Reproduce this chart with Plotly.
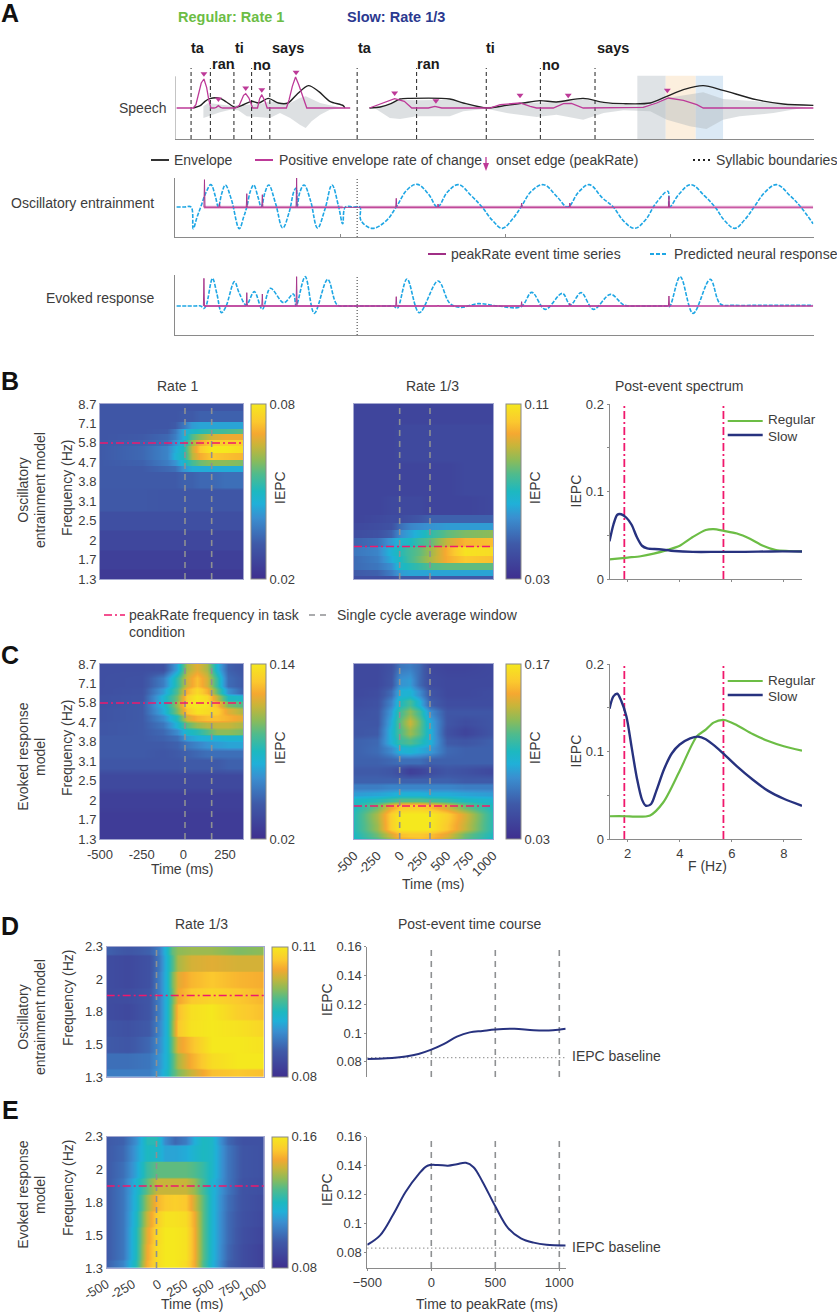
import plotly.graph_objects as go

W, H = 837, 1313
FONT = "Liberation Sans"
TXT = "#3c3c3c"
AX = "#8a8a8a"
PINK = "#f0186c"
GDASH = "#8e9092"
MAG = "#bd3a98"
GREEN = "#6cbd45"
NAVY = "#27327f"
CYAN = "#1ea6e4"
FS = 14
TICK = 13

PARULA = [[0, "#3f2f8f"], [.2, "#3f5aa8"], [.35, "#3a8fd0"], [.43, "#20b0d8"], [.5, "#1db8c0"],
          [.6, "#50bb8c"], [.68, "#8dbb58"], [.76, "#c7b53a"], [.83, "#f5a831"], [.9, "#fbc92e"], [1, "#f5e81e"]]

# ---------- Panel A data: time in arbitrary units, amplitude in arbitrary units ----------
env1_t = [361,374,383,392,411,423,439,451,470,483,501,520,538,554,576,595,616,641,644]
env1_v = [0,7,20,28,29,18,2,7,20,15,29,15,15,40,67,50,20,7,0]
env2_t = [690,710,730,747,766,840,865,909,946,977,1008,1039,1089,1127,1164,1214,1245,1276,1313,1350,1412,1462,1519]
env2_v = [0,3,13,27,29,27,15,0,8,15,22,18,29,17,13,15,35,55,67,53,25,12,8]
rate_t = [330,361,366,371,376,381,386,390,394,400,404,408,412,416,440,447,451,455,459,465,472,481,485,489,495,499,535,540,546,552,558,563,573,654]
rate_v = [0,0,10,40,75,87,62,25,0,0,2,7,2,0,0,8,25,38,43,30,0,0,28,40,20,0,0,25,65,93,70,45,0,0]
rate2_t = [690,715,737,755,769,800,812,825,915,934,971,990,1002,1033,1052,1067,1080,1089,1201,1226,1248,1276,1301,1313,1519]
rate2_v = [0,15,28,20,0,0,5,0,0,10,15,5,0,0,13,14,6,0,2,15,30,23,10,0,0]
wave1_t = [380,389,430,461,486,504,523,542,560,571,582,598,616,641,616,598,582,571,560,542,523,504,486,461,445,430,411,389,380]
wave1_v = [5,15,7,10,12,20,15,15,30,35,27,15,8,1,-5,-20,-40,-60,-50,-30,-15,-30,-28,-25,-7,-5,-13,-25,-30]
wave2_t = [700,728,747,778,840,871,909,977,1039,1089,1133,1214,1245,1288,1313,1350,1412,1475,1506,1444,1381,1350,1319,1288,1245,1214,1164,1127,1089,1039,1002,946,909,865,840,778,747,728,700]
wave2_v = [1,10,25,23,25,10,3,15,17,27,13,5,30,40,47,27,20,7,2,-15,-25,-35,-63,-55,-35,-10,-7,-15,-35,-20,-27,-15,-2,-10,-25,-25,-33,-30,-1]
peak_t = [381,408,459,489,553,737,814,971,1061,1246]
peak_v = [103,27,60,55,107,45,22,38,38,53]
syll_t = [357,393,437,470,504,667,778,908,1009,1111]

osc_t = [330,345,357,361,368,375,385,394,402,408,414,421,432,447,455,461,468,474,482,488,495,502,515,528,540,549,553,555,560,568,580,593,607,620,632,640,645,660,672,674,695,720,740,760,779,800,817,835,856,880,900,920,938,957,973,992,1015,1040,1060,1080,1100,1125,1145,1165,1185,1205,1225,1247,1250,1268,1290,1315,1335,1353,1372,1390,1408,1428,1450,1475,1495,1518]
osc_v = [1,1,1,-64,-30,1,45,68,35,1,40,67,25,-64,-30,1,50,67,30,1,45,67,10,-62,-15,48,58,1,45,67,20,-62,-5,67,5,-49,1,1,1,-39,-63,-42,1,52,69,40,1,45,68,35,1,-40,-63,-35,1,48,68,32,1,45,68,28,1,-42,-63,-38,13,48,1,40,68,35,1,-40,-63,-38,1,45,68,35,1,-49]
osc_spk_t = [381,382,383,409,410,411,460,461,462,489,490,491,553,554,555,739,740,741,817,818,819,973,974,975,1063,1064,1065,1248,1249,1250]
osc_spk_v = [0,83,0,0,12,0,0,41,0,0,38,0,0,89,0,0,27,0,0,10,0,0,13,0,0,13,0,0,33,0]
evo_t = [330,350,365,375,381,385,397,405,414,422,438,447,460,475,490,505,530,548,553,570,587,612,630,650,680,710,725,735,742,760,783,818,840,860,893,930,973,993,1018,1050,1065,1085,1108,1140,1165,1195,1225,1245,1250,1270,1294,1326,1345,1370,1420,1470,1518]
evo_v = [0,0,0,0,-7,0,83,38,-20,-2,73,38,3,43,-10,53,10,36,0,88,-22,80,3,0,0,0,0,0,-7,81,-20,75,8,-4,7,0,-2,41,-10,38,3,40,-10,35,3,0,0,0,-2,88,-22,80,6,2,2,2,2]
evo_spk_t = [380,381,382,460,461,462,489,490,491,553,554,555,739,740,741,817,818,819,973,974,975,1063,1064,1065,1248,1249,1250]
evo_spk_v = [0,83,0,0,40,0,0,36,0,0,88,0,0,28,0,0,3,0,0,13,0,0,8,0,0,30,0]

# ---------- Heat maps: levels are percent of the colour bar range ----------
FREQ_TICKS = ["1.3","1.7","2","2.5","3.1","3.8","4.7","5.8","7.1","8.7"]
B1_t = [-500,-250,-100,-50,0,50,100,170,250,358]
B1_y = [0,1,2,3,4,5.3,5.7,6.0,6.3,6.7,7.0,7.3,7.6,7.85,8.3,9]
B1_lev = [
 [5,5,5,5,5,5,5,5,5,5],
 [8,8,8,8,8,8,8,8,8,8],
 [11,11,11,11,11,11,11,11,11,11],
 [15,15,15,15,15,15,15,15,15,15],
 [19,19,18,18,18,18,18,18,18,18],
 [20,20,20,20,22,22,24,24,26,26],
 [20,20,24,26,36,42,42,42,42,42],
 [20,22,30,36,46,58,64,68,68,66],
 [20,24,32,44,50,74,84,90,88,86],
 [20,24,32,42,50,76,90,100,100,96],
 [20,22,26,36,46,70,83,92,92,92],
 [18,20,24,30,42,60,68,78,82,82],
 [18,18,20,28,42,48,52,56,58,62],
 [18,18,18,20,28,38,40,40,40,40],
 [18,18,18,18,20,20,22,22,22,22],
 [18,18,18,18,18,18,18,18,18,18]]
B2_t = [-500,-250,-100,0,100,200,320,500,700,1000]
B2_y = [0,.3,.67,1.0,1.4,1.9,2.35,2.7,3.05,3.6,5,7,9]
B2_lev = [
 [15,15,16,20,20,20,20,20,20,20],
 [20,22,30,38,40,40,40,40,40,40],
 [25,28,35,48,52,55,60,62,62,62],
 [25,30,42,50,58,64,72,84,90,88],
 [28,32,45,52,58,62,70,85,98,96],
 [22,26,38,46,50,56,62,76,86,88],
 [14,16,22,34,40,46,54,62,66,68],
 [12,14,16,26,32,34,36,38,38,38],
 [10,12,14,14,16,18,22,22,22,22],
 [10,10,12,12,12,12,10,10,10,12],
 [10,10,10,10,10,10,10,10,12,12],
 [10,10,10,12,12,12,12,12,12,12],
 [10,10,10,10,10,10,10,10,10,10]]
C1_t = [-500,-250,-120,-40,20,80,140,200,270,358]
C1_y = [0,1,2,3,3.9,4.4,4.9,5.2,5.5,5.9,6.2,6.6,6.95,7.25,7.6,8,9]
C1_lev = [
 [6,6,6,6,6,6,6,6,6,6],
 [6,6,6,6,6,6,6,6,6,6],
 [8,8,8,8,8,8,8,8,8,8],
 [12,12,12,12,12,12,12,12,12,12],
 [18,18,18,18,20,20,20,20,22,22],
 [20,20,18,20,22,24,26,26,26,26],
 [20,20,20,22,28,32,36,38,40,40],
 [20,20,22,26,38,42,44,44,46,46],
 [18,20,24,34,48,52,60,68,68,65],
 [18,20,28,45,62,70,74,76,76,72],
 [17,20,34,52,78,85,88,88,85,80],
 [17,20,42,66,90,98,96,92,80,72],
 [16,20,45,70,96,100,98,88,65,60],
 [16,18,45,65,92,100,95,75,50,48],
 [15,17,38,60,85,95,85,62,35,22],
 [15,16,30,55,78,88,78,55,25,20],
 [15,15,16,40,72,80,72,45,22,18]]
C2_t = [-500,-250,-100,0,100,200,320,500,700,1000]
C2_y = [0,.2,.6,1.2,1.7,2,2.3,2.7,3,3.5,4,4.6,5,5.5,6,6.5,7,7.5,8,9]
C2_lev = [
 [48,60,72,84,86,88,86,76,62,48],
 [50,64,78,88,90,90,88,80,64,50],
 [52,70,92,100,100,100,100,90,76,52],
 [52,72,92,100,100,100,100,92,78,52],
 [50,64,82,90,92,92,88,78,64,50],
 [48,52,56,60,60,60,58,55,50,46],
 [38,40,42,44,44,44,42,42,40,38],
 [30,30,32,32,32,32,32,32,30,30],
 [22,22,22,22,22,22,22,22,20,20],
 [20,20,18,14,8,10,14,18,16,12],
 [22,22,24,26,26,26,22,22,22,22],
 [22,25,34,44,46,42,38,24,22,22],
 [22,24,44,56,60,54,44,20,18,22],
 [18,20,45,60,70,62,44,16,10,18],
 [18,18,42,62,76,64,42,18,14,18],
 [16,18,38,58,68,58,35,18,18,18],
 [14,16,32,50,58,45,22,14,14,14],
 [12,14,25,44,45,35,18,12,12,14],
 [12,12,18,36,38,25,14,12,12,12],
 [12,12,16,28,30,25,12,10,10,12]]
D_t = [-500,-300,-100,0,70,120,180,300,500,750,1000]
D_y = [0,.5,1,1.5,2,2.5,3,3.5,4]
D_lev = [
 [30,30,30,38,48,58,66,76,88,90,88],
 [26,26,28,36,46,58,72,84,96,100,100],
 [20,18,24,34,46,62,80,88,100,100,98],
 [18,16,20,32,46,66,90,98,100,98,94],
 [14,12,18,30,46,64,88,97,100,92,88],
 [14,14,18,30,46,62,82,90,94,90,86],
 [14,12,16,30,46,64,80,86,90,86,84],
 [14,12,16,28,46,58,72,78,80,78,78],
 [22,18,22,30,48,62,68,70,70,66,68]]
E_t = [-500,-350,-220,-120,-25,50,150,250,330,420,500,650,800,1000]
E_y = [0,.5,1,1.5,2,2.5,3,3.5,4]
E_lev = [
 [22,32,52,84,96,100,100,96,84,60,45,22,14,8],
 [20,28,50,82,96,100,100,98,85,62,46,24,14,8],
 [20,28,50,80,95,100,100,98,85,62,46,25,15,10],
 [20,28,48,76,92,98,98,96,84,62,46,25,16,12],
 [20,28,46,70,86,90,92,90,78,62,46,26,17,13],
 [20,28,45,62,76,76,76,76,70,58,46,28,17,15],
 [20,26,40,56,62,62,62,62,60,55,48,28,18,16],
 [20,24,38,50,48,40,40,42,46,50,48,28,18,16],
 [20,22,35,52,52,34,24,30,42,50,48,24,16,16]]

# ---------- Line panels ----------
SB_reg_f = [1.3,2,2.5,3,3.5,4,4.5,5,5.3,5.7,6.2,6.7,7.2,7.7,8.2,8.7]
SB_reg = [.0225,.0245,.026,.029,.033,.038,.048,.056,.057,.055,.052,.046,.038,.033,.032,.0315]
SB_slow_f = [1.3,1.45,1.6,1.75,1.95,2.15,2.35,2.55,2.75,3.2,3.8,4.5,5.5,6.5,7.5,8.7]
SB_slow = [.043,.062,.0735,.074,.070,.062,.048,.038,.035,.034,.032,.031,.031,.031,.0315,.0315]
SC_reg_f = [1.3,1.9,2.3,2.86,3.37,4,4.65,5,5.3,5.7,6.2,6.8,7.4,8,8.7]
SC_reg = [.026,.026,.0255,.027,.042,.078,.117,.125,.133,.136,.130,.120,.112,.106,.101]
SC_slow_f = [1.3,1.45,1.6,1.75,1.95,2.15,2.35,2.55,2.7,2.9,3.1,3.4,3.7,4,4.4,4.7,5,5.4,5.7,6.2,6.8,7.4,8,8.7]
SC_slow = [.149,.163,.166,.158,.14,.105,.07,.045,.038,.04,.055,.08,.098,.108,.115,.117,.114,.105,.097,.083,.068,.055,.046,.038]
TD_t = [-500,-350,-200,-100,0,100,200,300,400,500,650,800,950,1050]
TD = [.082,.0825,.0838,.0855,.0885,.0925,.0975,.1005,.1015,.1025,.103,.102,.102,.103]
TE_t = [-500,-400,-300,-200,-100,-30,50,130,200,270,330,400,500,600,700,800,900,1050]
TE = [.0855,.092,.106,.122,.134,.14,.1405,.14,.141,.142,.139,.129,.112,.097,.09,.087,.0855,.085]

fig = go.Figure()
axis_count = 0

def txt(x, y, s, size=FS, color=TXT, anchor="center", angle=0, bold=False):
    fig.add_annotation(x=x / W, y=1 - y / H, xref="paper", yref="paper", text=f"<b>{s}</b>" if bold else s,
                       showarrow=False, xanchor=anchor, yanchor="middle", textangle=angle,
                       font=dict(family=FONT, size=size, color=color), align="center", borderpad=0)

def seg(x0, y0, x1, y1, color, width=1.5, dash="solid"):
    fig.add_shape(type="line", xref="paper", yref="paper", x0=x0 / W, x1=x1 / W, y0=1 - y0 / H, y1=1 - y1 / H,
                  line=dict(color=color, width=width, dash=dash))

def axes(x0, x1, y0, y1, xr, yr, xa=None, ya=None):
    global axis_count
    axis_count += 1
    suffix = "" if axis_count == 1 else str(axis_count)
    base_x = dict(domain=[x0 / W, x1 / W], range=xr, showgrid=False, zeroline=False, showline=False,
                  showticklabels=False, ticks="", anchor="y" + suffix,
                  tickfont=dict(family=FONT, size=TICK, color=TXT), linecolor=AX, tickcolor=AX)
    base_y = dict(domain=[1 - y1 / H, 1 - y0 / H], range=yr, showgrid=False, zeroline=False, showline=False,
                  showticklabels=False, ticks="", anchor="x" + suffix,
                  tickfont=dict(family=FONT, size=TICK, color=TXT), linecolor=AX, tickcolor=AX)
    base_x.update(xa or {})
    base_y.update(ya or {})
    fig.update_layout({"xaxis" + suffix: base_x, "yaxis" + suffix: base_y})
    return "x" + suffix, "y" + suffix

def line(ref, x, y, color, width=1.5, dash="solid", spline=None):
    ln = dict(color=color, width=width, dash=dash)
    if spline is not None:
        ln.update(shape="spline", smoothing=spline)
    fig.add_trace(go.Scatter(x=x, y=y, mode="lines", line=ln, xaxis=ref[0], yaxis=ref[1],
                             showlegend=False, hoverinfo="skip"))

FRAME = dict(showline=True, linecolor="#a3a7d0", linewidth=1, mirror=True)

def bands(ys, rows, f):
    """Repeat each row so that it stays flat over a fraction f of its cell (frequency bins look like steps)."""
    out_y, out_z = [], []
    for i, (y, row) in enumerate(zip(ys, rows)):
        lo = y if i == 0 else y - (y - ys[i - 1]) / 2 * f
        hi = y if i == len(ys) - 1 else y + (ys[i + 1] - y) / 2 * f
        for v in ([lo, hi] if hi > lo else [lo]):
            out_y.append(v)
            out_z.append(row)
    return out_y, out_z

def heat(x0, x1, y0, y1, t, ys, lev, zmin, zmax, cbx, cbw, xr, yr, yticks, ylabels, vt, hline,
         xticks=None, xangle=0, show_x=False, flat=.9):
    z = [[zmin + v / 100 * (zmax - zmin) for v in row] for row in lev]
    by, bz = bands(ys, z, flat)
    xa = dict(FRAME)
    ya = dict(FRAME)
    ya.update(tickmode="array", tickvals=yticks, ticktext=ylabels, showticklabels=True, ticklen=0)
    if show_x:
        xa.update(tickmode="array", tickvals=xticks, ticktext=[str(v) for v in xticks], showticklabels=True,
                  tickangle=xangle, ticks="outside", ticklen=3, tickcolor="rgba(0,0,0,0)")
    ref = axes(x0, x1, y0, y1, xr, yr, xa, ya)
    fig.add_trace(go.Heatmap(x=t, y=by, z=bz, zmin=zmin, zmax=zmax, colorscale=PARULA, zsmooth="best",
                             xaxis=ref[0], yaxis=ref[1], hoverinfo="skip",
                             colorbar=dict(x=cbx / W, xanchor="left", xpad=0, ypad=0, thickness=cbw, thicknessmode="pixels",
                                           y=1 - y0 / H, yanchor="top", len=(y1 - y0) / H, lenmode="fraction",
                                           outlinecolor="#8a8a8a", outlinewidth=1, ticks="",
                                           tickmode="array", tickvals=[zmin, zmax],
                                           ticktext=[f"{zmin:g}", f"{zmax:g}"],
                                           tickfont=dict(family=FONT, size=TICK, color=TXT))))
    for v in vt:
        line(ref, [v, v], yr, GDASH, 1.6, "6px,5px")
    line(ref, xr, [hline, hline], PINK, 1.5, "8px,3px,2px,3px")
    return ref

# ---------- Panel A ----------
SP_Y = [-93, 120]
ref = axes(175, 813.6, 68, 139, [327, 1519], SP_Y, dict(showline=True, linecolor=AX))
for a, b, c in [(1190, 1243, "#dfe3e6"), (1243, 1299, "#fcefde"), (1299, 1350, "#dbe9f5")]:
    fig.add_shape(type="rect", xref=ref[0], yref=ref[1], x0=a, x1=b, y0=-93, y1=97, layer="below",
                  line=dict(width=0), fillcolor=c)
for t_, v_ in [(wave1_t, wave1_v), (wave2_t, wave2_v)]:
    fig.add_trace(go.Scatter(x=t_, y=v_, mode="lines", fill="toself", fillcolor="rgba(175,180,185,.42)",
                             line=dict(width=0), xaxis=ref[0], yaxis=ref[1], showlegend=False, hoverinfo="skip"))
for s_ in syll_t:
    line(ref, [s_, s_], SP_Y, "#222222", 1, "4px,3px")
line(ref, [327, 327], [-93, 95], AX, 1)
line(ref, env1_t, env1_v, "#222222", 1.4, spline=.8)
line(ref, env2_t, env2_v, "#222222", 1.4, spline=.8)
line(ref, rate_t, rate_v, MAG, 1.3)
line(ref, rate2_t, rate2_v, MAG, 1.3)
fig.add_trace(go.Scatter(x=peak_t, y=peak_v, mode="markers", marker=dict(symbol="triangle-down", size=6, color=MAG),
                         xaxis=ref[0], yaxis=ref[1], showlegend=False, hoverinfo="skip"))

osc_ticks = [635, 943, 1252]
xa_t = dict(showline=True, linecolor=AX, ticks="inside", ticklen=3, tickmode="array", tickvals=osc_ticks)
ya_l = dict(showline=True, linecolor=AX)
ref = axes(175, 813.6, 178, 237, [327, 1519], [-89, 88], xa_t, ya_l)
line(ref, [667, 667], [-89, 88], "#333333", 1, "1px,2px")
line(ref, [381, 640], [0, 0], "#e3a9d0", 3)
line(ref, [672, 1518], [0, 0], "#e3a9d0", 3)
line(ref, osc_t, osc_v, CYAN, 1.6, "4px,1.5px", spline=1.1)
line(ref, osc_spk_t, osc_spk_v, "#a8388c", 1)
line(ref, [381, 640], [0, 0], "#c44a9c", 1)
line(ref, [672, 1518], [0, 0], "#c44a9c", 1)

ref = axes(175, 813.6, 275, 335, [327, 1519], [-87, 93], dict(showline=True, linecolor=AX), ya_l)
line(ref, [667, 667], [-87, 93], "#333333", 1, "1px,2px")
line(ref, evo_t, evo_v, CYAN, 1.6, "4px,1.5px", spline=1)
line(ref, evo_spk_t, evo_spk_v, "#a8388c", 1)
line(ref, [381, 1518], [0, 0], MAG, 1.3)

txt(10, 13, "A", 25, "#111111", bold=True)
txt(231, 17, "Regular: Rate 1", 14.5, GREEN, bold=True)
txt(396, 17, "Slow: Rate 1/3", 14.5, "#2b3990", bold=True)
for x_, y_, s_ in [(198,48,"ta"),(223,64,"ran"),(239,48,"ti"),(262,65,"no"),(288,48,"says"),
                   (365,48,"ta"),(429,64,"ran"),(491,48,"ti"),(551,65,"no"),(613,48,"says")]:
    txt(x_, y_, s_, 14.5, "#1a1a1a", bold=True)
txt(167, 108, "Speech", anchor="right")
txt(155, 203, "Oscillatory entrainment", anchor="right")
txt(155, 298, "Evoked response", anchor="right")
seg(151, 160, 169, 160, "#333333", 2)
txt(173, 160, "Envelope", anchor="left")
seg(255, 160, 273, 160, MAG, 2)
txt(278, 160, "Positive envelope rate of change", anchor="left")
seg(486, 157, 486, 167, MAG, 1.3)
fig.add_shape(type="path", xref="paper", yref="paper",
              path=f"M {483/W} {1-163/H} L {489/W} {1-163/H} L {486/W} {1-171/H} Z", fillcolor=MAG, line=dict(width=0))
txt(495, 160, "onset edge (peakRate)", anchor="left")
seg(693, 160, 710, 160, "#222222", 2, "2px,3px")
txt(715, 160, "Syllabic boundaries", anchor="left")
seg(428, 254, 446, 254, "#a02f86", 2)
txt(450, 254, "peakRate event time series", anchor="left")
seg(650, 254, 667, 254, CYAN, 2, "4px,2px")
txt(673, 254, "Predicted neural response", anchor="left")

# ---------- Panel B / C heat maps ----------
IDX = list(range(10))
heat(100, 243, 404, 579, B1_t, B1_y, B1_lev, .02, .08, 250.5, 14.5, [-500, 358], [0, 9], IDX, FREQ_TICKS, [10, 170], 7.0)
heat(354, 493, 404, 579, B2_t, B2_y, B2_lev, .03, .11, 505.5, 14.5, [-500, 1000], [0, 9], [], [], [-7, 320], 1.67)
heat(100, 243, 664, 839, C1_t, C1_y, C1_lev, .02, .14, 250.5, 14.5, [-500, 358], [0, 9], IDX, FREQ_TICKS, [10, 170], 7.0,
     xticks=[-500, -250, 0, 250], show_x=True, flat=.6)
heat(354, 493, 664, 839, C2_t, C2_y, C2_lev, .03, .17, 505.5, 14.5, [-500, 1000], [0, 9], [], [], [-7, 320], 1.7,
     xticks=[-500, -250, 0, 250, 500, 750, 1000], xangle=-45, show_x=True, flat=.35)

txt(10, 381, "B", 25, "#111111", bold=True)
txt(10, 655, "C", 25, "#111111", bold=True)
txt(177, 386, "Rate 1")
txt(432, 386, "Rate 1/3")
txt(679, 386, "Post-event spectrum")
for y_, line1, line2 in [(490, "Oscillatory", "entrainment model"), (757, "Evoked response", "model")]:
    txt(22.7, y_, line1, angle=-90)
    txt(40, y_, line2, angle=-90)
txt(67, 488, "Frequency (Hz)", angle=-90)
txt(67, 748, "Frequency (Hz)", angle=-90)
txt(280, 488, "IEPC", angle=-90)
txt(280, 748, "IEPC", angle=-90)
txt(535, 488, "IEPC", angle=-90)
txt(535, 748, "IEPC", angle=-90)
txt(182, 869, "Time (ms)")
txt(433, 884, "Time (ms)")
seg(104, 615, 125, 615, PINK, 1.5, "8px,3px,2px,3px")
txt(128, 615, "peakRate frequency in task", anchor="left")
txt(128, 632, "condition", anchor="left")
seg(309, 615, 330, 615, GDASH, 1.6, "6px,5px")
txt(336, 615, "Single cycle average window", anchor="left")

# ---------- Spectra ----------
def spectrum(y0, y1, rf, r, sf, s, labels):
    xa = dict(showline=True, linecolor=AX, ticks="outside", ticklen=2, tickmode="array", tickvals=[2, 4, 6, 8],
              showticklabels=labels)
    ya = dict(showline=True, linecolor=AX, ticks="outside", ticklen=2, tickmode="array",
              tickvals=[0, .05, .1, .15, .2], ticktext=["0", "", "0.1", "", "0.2"], showticklabels=True)
    ref = axes(609.5, 802, y0, y1, [1.3, 8.7], [0, .2], xa, ya)
    line(ref, [1.87, 1.87], [0, .2], PINK, 1.8, "8px,3px,2px,3px")
    line(ref, [5.68, 5.68], [0, .2], PINK, 1.8, "8px,3px,2px,3px")
    line(ref, rf, r, GREEN, 2.2, spline=.8)
    line(ref, sf, s, NAVY, 2.4, spline=.8)
    seg(727.7, y0 + 17, 762.7, y0 + 17, GREEN, 2.2)
    seg(727.7, y0 + 31, 762.7, y0 + 31, NAVY, 2.4)
    txt(767, y0 + 16, "Regular", 13.5, anchor="left")
    txt(767, y0 + 32, "Slow", 13.5, anchor="left")

spectrum(404, 579, SB_reg_f, SB_reg, SB_slow_f, SB_slow, False)
spectrum(664, 839, SC_reg_f, SC_reg, SC_slow_f, SC_slow, True)
txt(575.7, 490.7, "IEPC", angle=-90)
txt(575.7, 750.7, "IEPC", angle=-90)
txt(707.7, 866, "F (Hz)")

# ---------- Panels D / E ----------
Y5 = [0, 1, 2, 3, 4]
L5 = ["1.3", "1.5", "1.8", "2", "2.3"]
heat(106.7, 264, 946.7, 1077, D_t, D_y, D_lev, .08, .11, 271.7, 15.5, [-500, 1000], [0, 4], Y5, L5, [-25], 2.5)
heat(106.7, 264, 1136.7, 1268, E_t, E_y, E_lev, .08, .16, 271.7, 15.5, [-500, 1000], [0, 4], Y5, L5, [-25], 2.5,
     xticks=[-500, -250, 0, 250, 500, 750, 1000], xangle=-30, show_x=True)

def course(y0, y1, t, v, base, labels):
    xa = dict(ticks="outside", ticklen=2, tickmode="array", tickvals=[-500, 0, 500, 1000], showticklabels=labels,
              showline=labels, linecolor=AX)
    if not labels:
        xa.update(ticks="")
    ya = dict(showline=True, linecolor=AX, ticks="outside", ticklen=2, tickmode="array",
              tickvals=[.08, .1, .12, .14, .16], ticktext=["0.08", "0.1", "0.12", "0.14", "0.16"], showticklabels=True)
    ref = axes(367.3, 565.7, y0, y1, [-500, 1050], [.0695, .16], xa, ya)
    for m in [0, 500, 1000]:
        line(ref, [m, m], [.0695, .16], GDASH, 1.6, "6px,5px")
    line(ref, [-500, 1050], [base, base], "#777777", 1.2, "1px,3px")
    line(ref, t, v, NAVY, 2, spline=1)

course(946.7, 1077, TD_t, TD, .083, False)
course(1136.7, 1268, TE_t, TE, .0832, True)
txt(10, 926, "D", 25, "#111111", bold=True)
txt(10, 1110, "E", 25, "#111111", bold=True)
txt(201.7, 924, "Rate 1/3")
txt(469, 924, "Post-event time course")
txt(22.7, 1017, "Oscillatory", angle=-90)
txt(40, 1017, "entrainment model", angle=-90)
txt(22.7, 1195, "Evoked response", angle=-90)
txt(40, 1195, "model", angle=-90)
txt(68, 998, "Frequency (Hz)", angle=-90)
txt(68, 1188, "Frequency (Hz)", angle=-90)
txt(327, 1000, "IEPC", angle=-90)
txt(327, 1190, "IEPC", angle=-90)
txt(570.7, 1056, "IEPC baseline", anchor="left")
txt(570.7, 1246.7, "IEPC baseline", anchor="left")
txt(192, 1304, "Time (ms)")
txt(487, 1304, "Time to peakRate (ms)")

fig.update_layout(width=W, height=H, margin=dict(l=0, r=0, t=0, b=0, autoexpand=False), autosize=False,
                  paper_bgcolor="white", plot_bgcolor="rgba(0,0,0,0)", showlegend=False,
                  font=dict(family=FONT, color=TXT))
fig.write_html("out.html", config={"displayModeBar": False},
               post_script="document.body.style.margin='0';document.body.style.overflow='hidden';")
